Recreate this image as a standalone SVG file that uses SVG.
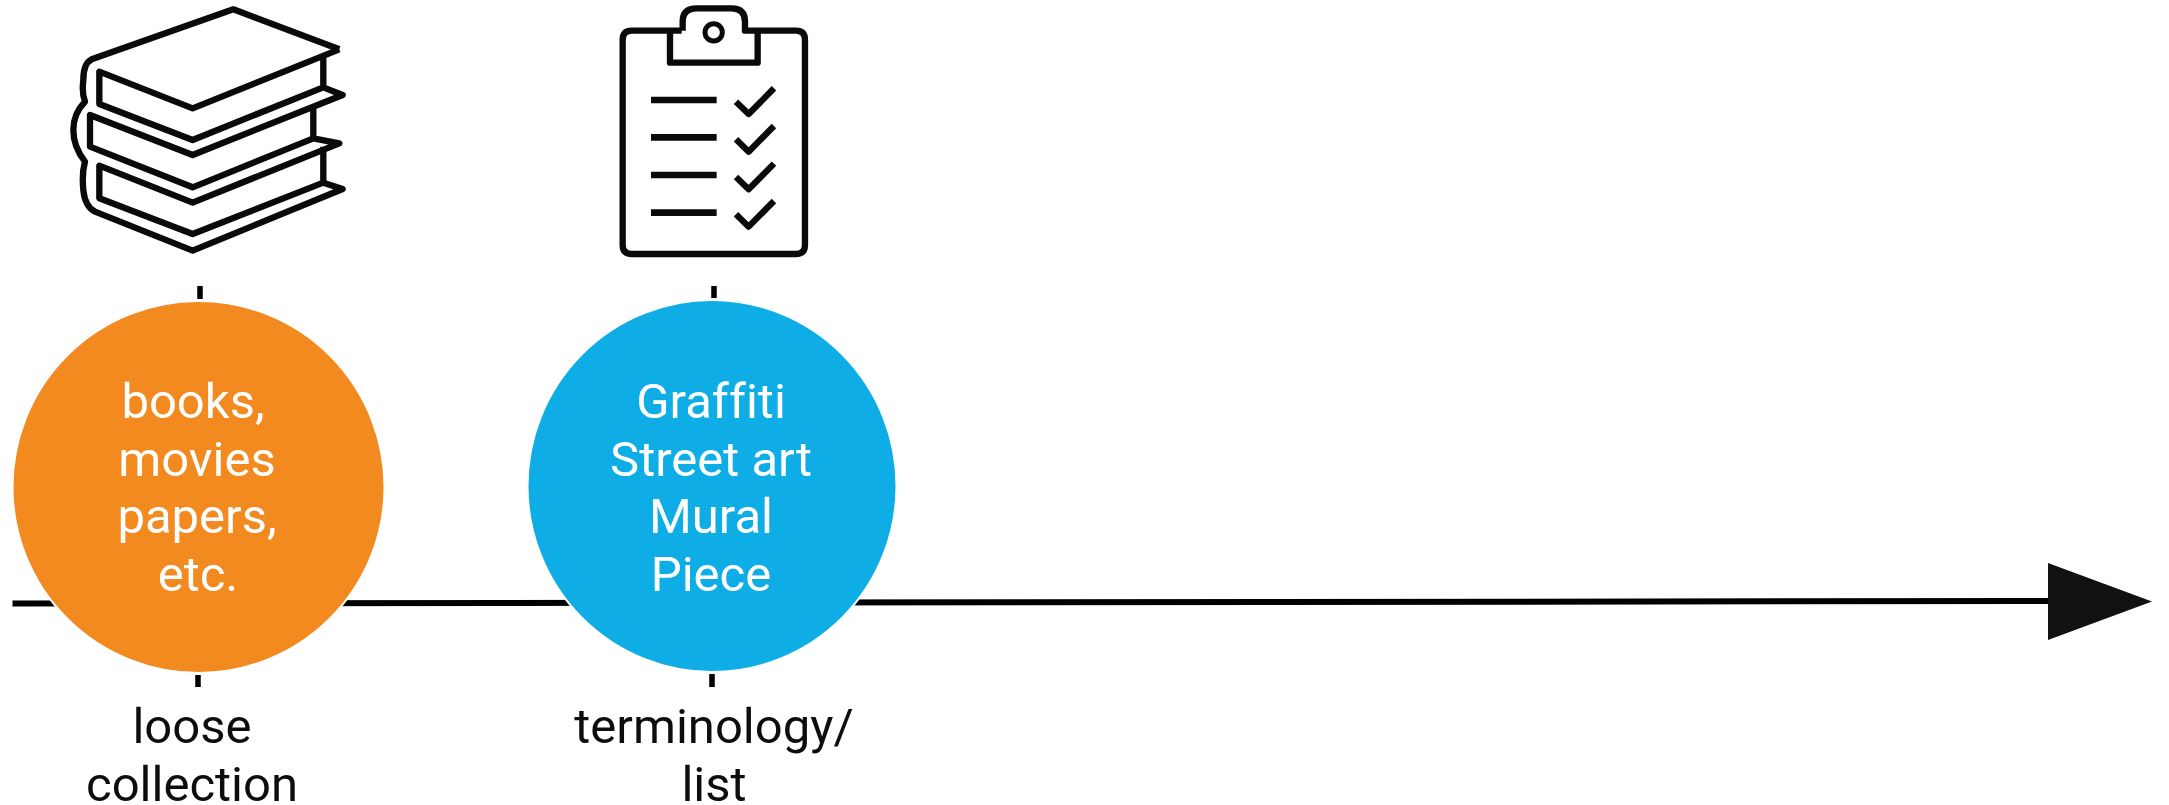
<svg xmlns="http://www.w3.org/2000/svg" width="2169" height="805" viewBox="0 0 2169 805">
<style>
text{font-family:Roboto,"Liberation Sans",sans-serif;font-size:49px;text-anchor:middle;font-variant-ligatures:none}
.in{fill:#fff}.out{fill:#0d0d0d}
.ic{fill:none;stroke:#0a0a0a;stroke-width:19;stroke-linejoin:round;stroke-linecap:butt}
.t{stroke:#000;stroke-width:5.5}
</style>
<rect width="2169" height="805" fill="#fff"/>
<g id="connectors">
<path d="M12.500 603.500L2050 601" stroke="#000" stroke-width="6" fill="none"/>
<polygon points="2048,563 2152,601.500 2048,640" fill="#111"/>
<path class="t" d="M200 286V299M714 286V298M198 675V687M712 674V687"/>
</g>
<g id="books-icon" transform="translate(40 0) scale(.3333)">
<path class="ic" d="M898 148L580 28L155 178Q130 190 130 240Q125 280 135 305Q100 340 100 390Q100 440 135 485Q125 520 130 570Q135 620 165 635L458 752L908 567L850 548"/>
<path class="ic" d="M898 148L458 325L178 215V312L458 420L850 262V170M850 262L908 285L458 465L150 345V440L458 562L820 415V325M820 415L898 430L458 608L178 497V595L458 702L850 548V440"/>
</g>
<g id="checklist-icon" transform="translate(590 0) scale(.3333)">
<path class="ic" d="M275 92H125Q98 92 98 120V735Q98 762 125 762H618Q645 762 645 735V120Q645 92 618 92H465V65Q465 25 425 25H320Q278 25 278 65V92"/>
<path class="ic" d="M240 95V188H503V95"/>
<circle class="ic" cx="371" cy="97" r="26" style="stroke-width:15"/>
<path class="ic" style="stroke-width:20" d="M183 300H380M183 412H380M183 525H380M183 638H380"/>
<path class="ic" d="M438 305L476 342L552 265M438 418L476 455L552 378M438 531L476 568L552 491M438 643L476 680L552 603"/>
</g>
<g id="node-books">
<ellipse cx="198.500" cy="487" rx="186" ry="186" fill="#f28a20" stroke="#fff" stroke-width="2"/>
<text class="in" x="193" y="418">books,</text>
<text class="in" x="197" y="475.500">movies</text>
<text class="in" x="197" y="533">papers,</text>
<text class="in" x="198" y="590.500">etc.</text>
</g>
<g id="node-terms">
<ellipse cx="712" cy="486" rx="184.500" ry="186" fill="#0eade6" stroke="#fff" stroke-width="2"/>
<text class="in" x="711" y="418">Graffiti</text>
<text class="in" x="711" y="475.500">Street art</text>
<text class="in" x="711" y="533">Mural</text>
<text class="in" x="711" y="590.500">Piece</text>
</g>
<g id="label-loose">
<text class="out" x="192" y="743">loose</text>
<text class="out" x="192" y="800.500">collection</text>
</g>
<g id="label-terminology">
<text class="out" x="714" y="743">terminology/</text>
<text class="out" x="714" y="800.500">list</text>
</g>
</svg>
